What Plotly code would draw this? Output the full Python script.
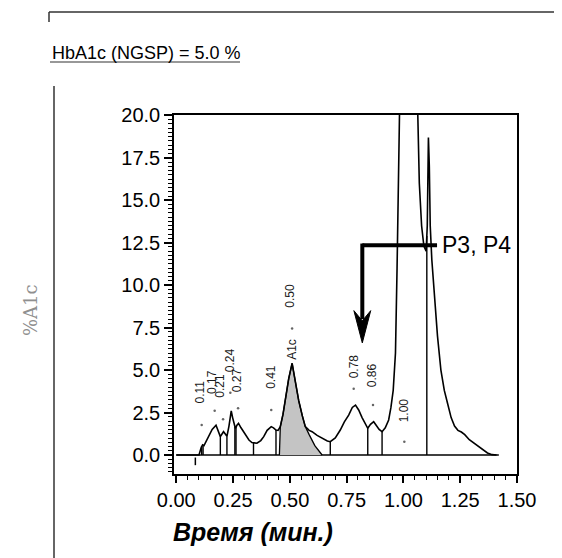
import numpy as np
import plotly.graph_objects as go

# ---- data ----
time_min = [0.00, 0.10, 0.110, 0.116, 0.122, 0.130, 0.142, 0.158, 0.175, 0.186, 0.194,
            0.202, 0.208, 0.215, 0.223, 0.232, 0.238, 0.242, 0.248, 0.255, 0.260,
            0.267, 0.274, 0.285, 0.304, 0.320, 0.333, 0.355, 0.372, 0.385, 0.400,
            0.418, 0.428, 0.439, 0.448, 0.458, 0.470, 0.480, 0.495, 0.510, 0.525,
            0.539, 0.555, 0.568, 0.585, 0.598, 0.620, 0.642, 0.665, 0.678, 0.700,
            0.722, 0.740, 0.759, 0.775, 0.789, 0.803, 0.818, 0.832, 0.843, 0.855,
            0.869, 0.880, 0.893, 0.906, 0.920, 0.935, 0.945, 0.955, 0.965, 0.972,
            0.977, 0.985, 1.000, 1.030, 1.050, 1.060, 1.070, 1.080, 1.090, 1.100,
            1.105, 1.110, 1.114, 1.118, 1.125, 1.135, 1.150, 1.165, 1.180, 1.195,
            1.210, 1.225, 1.240, 1.255, 1.270, 1.290, 1.310, 1.330, 1.350, 1.370,
            1.390, 1.410]
signal = [0.0, 0.0, 0.45, 0.6, 0.55, 0.75, 1.08, 1.5, 1.75, 1.4, 1.08,
          1.25, 1.37, 1.25, 1.1, 1.7, 2.3, 2.6, 2.2, 1.75, 1.57,
          1.75, 1.86, 1.6, 1.18, 0.88, 0.73, 0.69, 0.85, 1.08, 1.45,
          1.67, 1.6, 1.47, 1.45, 1.67, 2.4, 3.2, 4.5, 5.4, 4.3,
          3.2, 2.3, 1.67, 1.45, 1.37, 1.15, 0.98, 0.82, 0.78, 1.0,
          1.47, 1.95, 2.35, 2.8, 2.94, 2.65, 2.2, 1.8, 1.57, 1.8,
          1.96, 1.75, 1.5, 1.37, 1.6, 2.06, 2.8, 3.8, 6.0, 11.0,
          20.0, 40.0, 60.0, 60.0, 40.0, 22.0, 16.0, 13.5, 12.3, 12.0,
          13.5, 18.7, 17.0, 13.5, 11.5, 9.5, 7.0, 5.0, 3.8, 3.0,
          2.2, 1.7, 1.45, 1.35, 1.2, 0.9, 0.7, 0.5, 0.3, 0.12,
          0.02, 0.0]

# integrated A1c peak (shaded)
a1c_time = [0.454, 0.458, 0.470, 0.480, 0.495, 0.510, 0.525, 0.539, 0.555, 0.568, 0.585, 0.610, 0.642]
a1c_signal = [0.0, 1.67, 2.4, 3.2, 4.5, 5.4, 4.3, 3.2, 2.3, 1.67, 1.2, 0.55, 0.0]

# integration drop lines (retention times)
drop_times = [0.112, 0.118, 0.194, 0.223, 0.258, 0.263, 0.340, 0.439, 0.678, 0.843, 0.906, 1.103]

# small peak-apex marks printed above the peaks
mark_times = [0.112, 0.169, 0.206, 0.238, 0.272, 0.418, 0.510, 0.781, 0.866, 1.004]
mark_levels = [1.76, 2.6, 2.1, 3.66, 2.75, 2.65, 7.45, 3.9, 2.94, 0.78]

# peak labels: text and retention time
peak_texts = ["0.11", "0.17", "0.21", "0.24", "0.27", "0.41", "A1c", "0.50", "0.78", "0.86", "1.00"]
peak_times = [0.106, 0.157, 0.194, 0.238, 0.267, 0.417, 0.510, 0.502, 0.781, 0.862, 1.004]
label_heights = [3.7, 4.3, 4.1, 5.6, 4.4, 4.6, 6.2, 9.4, 5.2, 4.7, 2.65]

x_ticks = [0.00, 0.25, 0.50, 0.75, 1.00, 1.25, 1.50]
y_ticks = [0.0, 2.5, 5.0, 7.5, 10.0, 12.5, 15.0, 17.5, 20.0]

fig = go.Figure()

# baseline
fig.add_trace(go.Scatter(x=[0.0, 1.42], y=[0.0, 0.0], mode="lines",
                         line=dict(color="black", width=1.5), hoverinfo="skip"))

# shaded A1c area
fig.add_trace(go.Scatter(x=a1c_time, y=a1c_signal, mode="lines", fill="toself",
                         fillcolor="#c4c4c4", line=dict(color="black", width=1.3),
                         hoverinfo="skip"))

# drop lines
dx, dy = [], []
for t in drop_times:
    dx += [t, t, None]
    dy += [0.0, float(np.interp(t, time_min, signal)), None]
fig.add_trace(go.Scatter(x=dx, y=dy, mode="lines", line=dict(color="black", width=1.4),
                         hoverinfo="skip"))

# chromatogram
fig.add_trace(go.Scatter(x=time_min, y=signal, mode="lines",
                         line=dict(color="black", width=1.6), hoverinfo="skip"))

# apex marks
fig.add_trace(go.Scatter(x=mark_times, y=mark_levels, mode="markers",
                         marker=dict(color="#666", size=2.5), hoverinfo="skip"))

annotations = []
for txt, t, h in zip(peak_texts, peak_times, label_heights):
    annotations.append(dict(x=t, y=h, xref="x", yref="y", text=txt, showarrow=False,
                            textangle=-90, font=dict(family="Liberation Sans, Arial", size=12, color="#1a1a1a")))

# page has an 8px body margin: figure is shifted by 8px right and down
OFF = 8
W, H = 554, 550
L, R, T, B = 166, 45, 107, 84
pw, ph = W - L - R, H - T - B
def px(xp):  # page x -> paper
    return (xp - OFF - L) / pw
def py(yp):  # page y -> paper
    return (H - B - (yp - OFF)) / ph

annotations += [
    dict(x=px(50), y=py(53), xref="paper", yref="paper", text="HbA1c (NGSP) = 5.0 %",
         showarrow=False, xanchor="left", yanchor="middle",
         font=dict(family="Liberation Sans, Arial", size=18, color="black")),
    dict(x=px(171), y=py(532), xref="paper", yref="paper", text="<b><i>Время (мин.)</i></b>",
         showarrow=False, xanchor="left", yanchor="middle",
         font=dict(family="Liberation Sans, Arial", size=25, color="black")),
    dict(x=px(30), y=py(310), xref="paper", yref="paper", text="%A1c", textangle=-90,
         showarrow=False, xanchor="center", yanchor="middle",
         font=dict(family="DejaVu Serif, Liberation Serif, serif", size=18, color="#8f8f8f")),
    dict(x=1.16, y=12.35, xref="x", yref="y", text="P3, P4", showarrow=False,
         xanchor="left", yanchor="middle",
         font=dict(family="Liberation Sans, Arial", size=23, color="black")),
]

shapes = [
    # outer frame
    dict(type="line", xref="paper", yref="paper", x0=px(49), x1=px(562), y0=py(12), y1=py(12),
         line=dict(color="#333", width=1.5)),
    dict(type="line", xref="paper", yref="paper", x0=px(49), x1=px(49), y0=py(12), y1=py(22),
         line=dict(color="#333", width=1.5)),
    dict(type="line", xref="paper", yref="paper", x0=px(54), x1=px(54), y0=py(86), y1=py(558),
         line=dict(color="#333", width=1.5)),
    # header underline
    dict(type="line", xref="paper", yref="paper", x0=px(50), x1=px(240), y0=py(62), y1=py(62),
         line=dict(color="#333", width=1.2)),
    # injection mark
    dict(type="line", xref="x", yref="y", x0=0.084, x1=0.084, y0=-0.15, y1=-0.6,
         line=dict(color="black", width=1.5)),
    # P3,P4 arrow
    dict(type="line", xref="x", yref="y", x0=1.148, x1=0.819, y0=12.35, y1=12.35,
         line=dict(color="black", width=4)),
    dict(type="line", xref="x", yref="y", x0=0.819, x1=0.819, y0=12.45, y1=8.0,
         line=dict(color="black", width=4)),
    dict(type="path", xref="x", yref="y",
         path="M 0.782,8.5 L 0.819,6.6 L 0.856,8.5 L 0.819,7.9 Z",
         fillcolor="black", line=dict(color="black", width=1)),
]

fig.update_layout(
    width=W, height=H,
    margin=dict(l=L, r=R, t=T, b=B),
    paper_bgcolor="white", plot_bgcolor="white",
    showlegend=False,
    annotations=annotations, shapes=shapes,
    font=dict(family="Liberation Sans, Arial", color="black"),
)
fig.update_xaxes(range=[-0.01, 1.5], tickvals=x_ticks, tickformat=".2f",
                 ticks="outside", ticklen=7, tickwidth=1.5, tickcolor="black",
                 showline=True, linecolor="black", linewidth=1.5, mirror=True,
                 showgrid=False, zeroline=False,
                 tickfont=dict(size=20, family="Liberation Sans, Arial", color="black"),
                 minor=dict(dtick=0.05, tick0=0, ticks="outside", ticklen=4, tickwidth=1, tickcolor="black"))
fig.update_yaxes(range=[-1.12, 20.02], tickvals=y_ticks, tickformat=".1f",
                 ticks="outside", ticklen=8, tickwidth=1.5, tickcolor="black",
                 showline=True, linecolor="black", linewidth=1.5, mirror=True,
                 showgrid=False, zeroline=False,
                 tickfont=dict(size=20, family="Liberation Sans, Arial", color="black"),
                 minor=dict(dtick=0.25, tick0=0, ticks="outside", ticklen=4, tickwidth=1, tickcolor="black"))

fig.write_html("out.html")
